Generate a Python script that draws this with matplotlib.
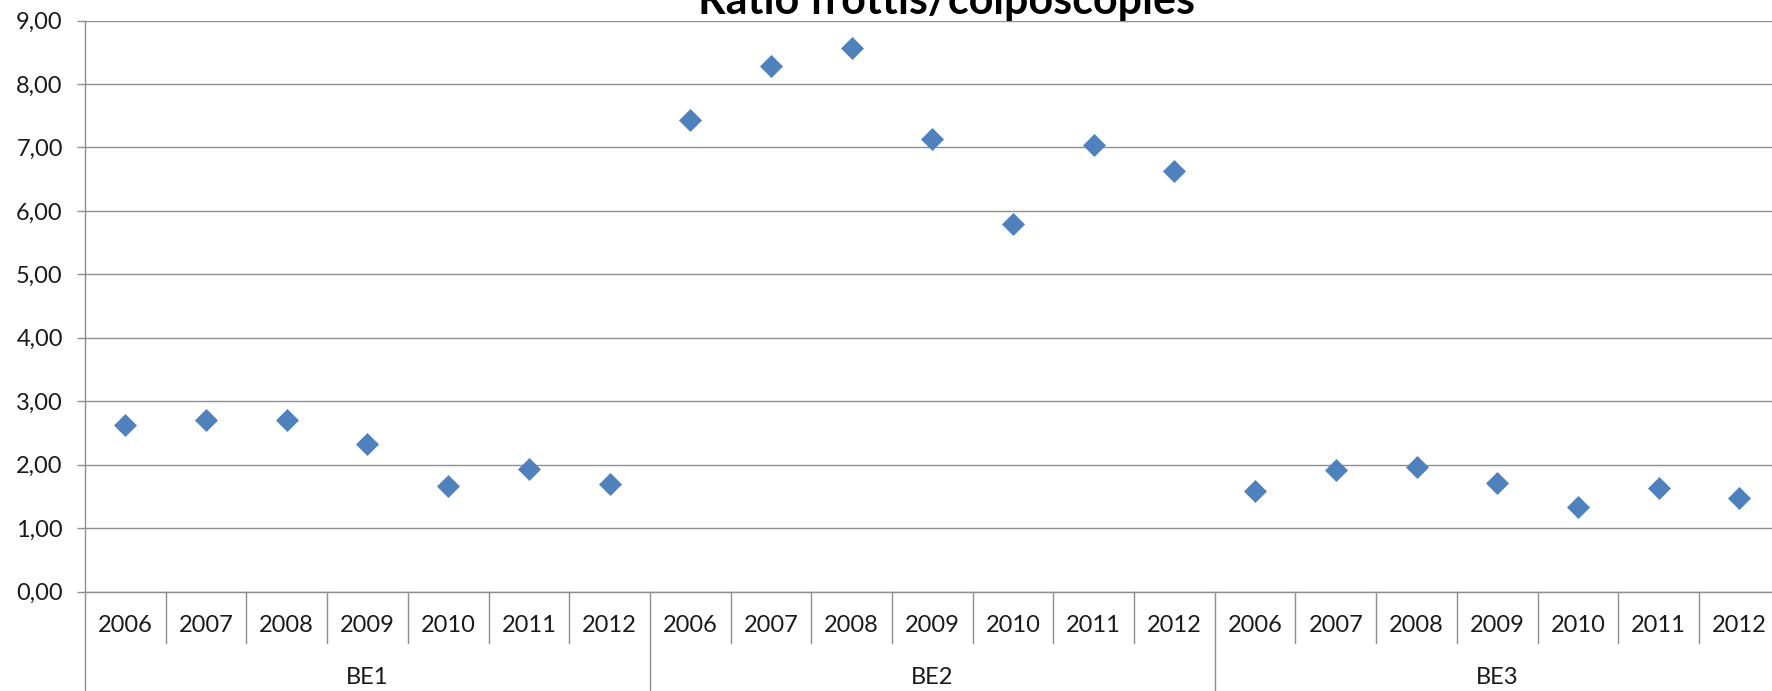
import matplotlib
matplotlib.use("Agg")
import matplotlib.pyplot as plt
from matplotlib.transforms import blended_transform_factory

plt.rcParams['font.family'] = ['Lato', 'DejaVu Sans']

groups = ["BE1", "BE2", "BE3"]
years = ["2006", "2007", "2008", "2009", "2010", "2011", "2012"]
be1 = [2.63, 2.70, 2.70, 2.32, 1.66, 1.93, 1.70]
be2 = [7.43, 8.29, 8.57, 7.14, 5.79, 7.04, 6.63]
be3 = [1.59, 1.91, 1.96, 1.71, 1.34, 1.64, 1.48]
title = "Ratio frottis/colposcopies"
yticks = [0, 1, 2, 3, 4, 5, 6, 7, 8, 9]

values = be1 + be2 + be3
labels = years * len(groups)
n = len(values)
xs = list(range(n))

W, H = 1772, 691
fig = plt.figure(figsize=(W / 100, H / 100), dpi=100)
top_px, zero_px, left_px = 20.5, 591.7, 85
cat_w = 80.7
ax = fig.add_axes([left_px / W, 1 - zero_px / H, n * cat_w / W, (zero_px - top_px) / H])

gray = '#8e8e8e'
ax.set_xlim(-0.5, n - 0.5)
ax.set_ylim(0, 9)
ax.set_yticks(yticks)
ax.set_yticklabels([f"{v:.2f}".replace('.', ',') for v in yticks])
ax.yaxis.grid(True, color=gray, linewidth=1.0)
ax.set_axisbelow(True)
ax.set_xticks([])
for s in ['top', 'right']:
    ax.spines[s].set_visible(False)
for s in ['left', 'bottom']:
    ax.spines[s].set_color(gray)
    ax.spines[s].set_linewidth(1.0)
ax.tick_params(axis='y', length=6, width=1.0, color=gray, labelsize=17, labelcolor='#1a1a1a', pad=10)

ax.plot(xs, values, linestyle='none', marker='D', markersize=11.5,
        color='#4f81bd', markeredgecolor='#4f81bd', markeredgewidth=0.5, zorder=3)

trans = blended_transform_factory(ax.transData, ax.transAxes)
axis_h = zero_px - top_px
year_sep = -(643 - zero_px) / axis_h
group_sep = -(H + 5 - zero_px) / axis_h
year_lab = -(625.5 - zero_px) / axis_h
group_lab = -(678 - zero_px) / axis_h

group_len = len(years)
for i in range(n + 1):
    xb = i - 0.5
    is_group = (i % group_len == 0)
    ax.plot([xb, xb], [0, group_sep if is_group else year_sep], transform=trans,
            color=gray, linewidth=1.0, clip_on=False)
for i, lab in enumerate(labels):
    ax.text(i, year_lab, lab, transform=trans, ha='center', va='center',
            fontsize=17, color='#1a1a1a')
for g, name in enumerate(groups):
    cx = g * group_len + (group_len - 1) / 2
    ax.text(cx, group_lab, name, transform=trans, ha='center', va='center',
            fontsize=17, color='#1a1a1a')

fig.text(947 / W, 1 - 14 / H, title, ha='center', va='baseline',
         fontsize=31, fontweight='bold', color='black')

fig.savefig("out.png", dpi=100, facecolor='white')
